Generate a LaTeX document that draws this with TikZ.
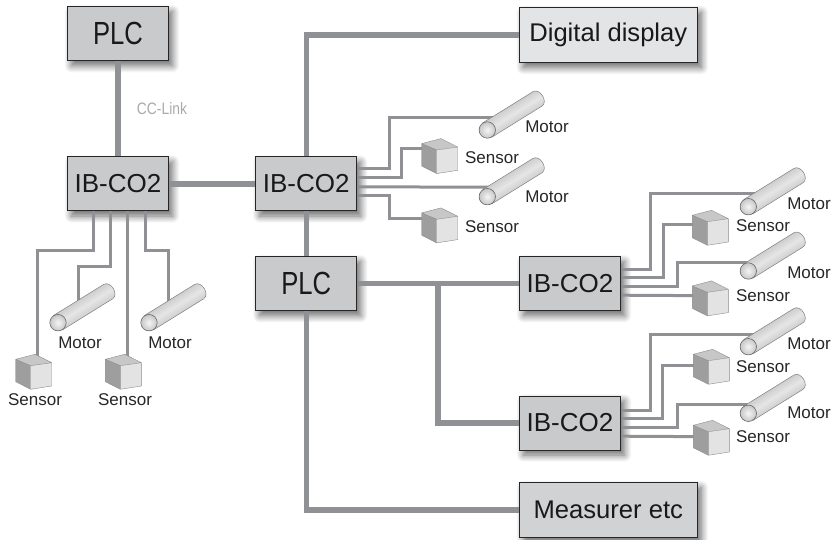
\documentclass[tikz,border=0pt]{standalone}
\usepackage{fontspec}
\setmainfont{Liberation Sans}
\usepackage{graphicx}
\usetikzlibrary{shadows.blur}
\definecolor{boxgray}{HTML}{C9CACC}
\definecolor{lightbox}{HTML}{E3E4E5}
\definecolor{midbox}{HTML}{D1D2D3}
\definecolor{wiregray}{HTML}{8F9194}
\definecolor{linkgray}{HTML}{A7A9AC}
\tikzset{
  unit/.style={draw=black!85, line width=1pt, fill=boxgray, minimum width=101pt, minimum height=54pt, inner sep=0pt, font=\fontsize{26}{26}\selectfont, text=black!90,
    blur shadow={shadow xshift=4pt, shadow yshift=-5pt, shadow blur radius=7pt, shadow blur steps=12, shadow opacity=60}},
  widebox/.style={unit, minimum width=178pt, minimum height=55pt, font=\fontsize{25.6}{26}\selectfont},
  bigwire/.style={draw=wiregray, line width=5.2pt},
  smallwire/.style={draw=wiregray, line width=3pt},
  lbl/.style={font=\fontsize{17}{17}\selectfont, inner sep=0pt, text=black!85},
  motor/.pic={
    \path[draw=black!50, line width=0.5pt, left color=black!40, right color=black!40, middle color=black!10, shading angle=32]
      (-20.5,22.7) -- (29.5,-8.3) .. controls (36.5,-12.5) and (27.5,-27) .. (20.5,-22.7) -- (-29.5,8.3) -- cycle;
    \path[draw=black!60, line width=0.6pt, inner color=black!4, outer color=black!22] (-25,15.5) circle (8.2);
  },
  sensor/.pic={
    \fill[black!22] (0,0) -- (-15,-6.4) -- (4.3,-11.4) -- (21,-3) -- cycle;
    \fill[black!38] (0,0) -- (-15,-6.4) -- (-15,16) -- (0,23.6) -- cycle;
    \fill[black!11] (0,0) -- (21,-3) -- (21,20.3) -- (0,23.6) -- cycle;
    \draw[black!45, line width=0.4pt, line join=round] (0,0) -- (-15,-6.4) -- (4.3,-11.4) -- (21,-3) -- (21,20.3) -- (0,23.6) -- (-15,16) -- (-15,-6.4)
      (0,0) -- (21,-3) (0,0) -- (0,23.6);
  },
}
\begin{document}
\begin{tikzpicture}[x=1pt, y=-1pt]
\useasboundingbox (0,0) rectangle (833,540);

% Where the motors and sensors sit
\coordinate (lm1) at (83,307.2);
\coordinate (lm2) at (174,307.2);
\coordinate (ls1) at (30.7,365.7);
\coordinate (ls2) at (120.4,365.7);
\coordinate (mm1) at (512.3,114.5);
\coordinate (mm2) at (512.3,181.2);
\coordinate (ms1) at (436.7,150);
\coordinate (ms2) at (436.7,219.3);
\coordinate (am1) at (773.3,191.2);
\coordinate (am2) at (773.3,255.5);
\coordinate (as1) at (707.3,221.7);
\coordinate (as2) at (707.3,292.3);
\coordinate (bm1) at (773.3,331.2);
\coordinate (bm2) at (773.3,397.8);
\coordinate (bs1) at (708.3,360.7);
\coordinate (bs2) at (708.3,431.7);
\coordinate (branch) at (438,283.7);

% Boxes
\node[unit] (plctop) at (118,33.7) {\fontsize{32}{32}\selectfont\scalebox{0.8}[1]{PLC}};
\node[unit] (ibleft) at (118,184) {IB-CO2};
\node[unit] (ibmid) at (306.2,184) {IB-CO2};
\node[unit] (plcmid) at (306.2,283.7) {\fontsize{32}{32}\selectfont\scalebox{0.8}[1]{PLC}};
\node[unit] (ibtop) at (570,283.7) {IB-CO2};
\node[unit] (iblow) at (570,423) {IB-CO2};
\node[widebox, fill=lightbox] (display) at (608.3,35) {Digital display};
\node[widebox, fill=midbox] (measurer) at (608.3,510) {Measurer etc};
\node[font=\fontsize{16.5}{16.5}\selectfont, text=linkgray, inner sep=0pt] (cclink) at (162,109) {\scalebox{0.84}[1]{CC-Link}};

% Thick lines
\draw[bigwire] (plctop) -- (ibleft);
\draw[bigwire] (ibleft) -- (ibmid);
\draw[bigwire] (ibmid.north) |- (display.west);
\draw[bigwire] (ibmid) -- (plcmid);
\draw[bigwire] (plcmid.south) |- (measurer.west);
\draw[bigwire] (plcmid) -- (ibtop);
\draw[bigwire] (branch) |- (iblow.west);

% Left unit
\draw[smallwire] ([xshift=-25pt]ibleft.south) |- (37.5,250.7) -- (37.5,0 |- ls1);
\draw[smallwire] ([xshift=-8pt]ibleft.south) |- (78,266.7) -- (78,0 |- lm1);
\draw[smallwire] ([xshift=9pt]ibleft.south) -- (127,0 |- ls2);
\draw[smallwire] ([xshift=27pt]ibleft.south) |- (168.7,250.7) -- (168.7,0 |- lm2);

% Middle unit
\draw[smallwire] ([yshift=-12.3pt]ibmid.north east) -| (389,118) -- (mm1 |- 389,118);
\draw[smallwire] ([yshift=-21.3pt]ibmid.north east) -| (401.3,149) -- (ms1 |- 401.3,149);
\draw[smallwire] ([yshift=-30.3pt]ibmid.north east) -- (mm2 |- 389,187.3);
\draw[smallwire] ([yshift=-39pt]ibmid.north east) -| (389,219) -- (ms2 |- 389,219);

% Right units
\draw[smallwire] ([yshift=-13.3pt]ibtop.north east) -| (650,193.3) -- (am1 |- 650,193.3);
\draw[smallwire] ([yshift=-21.6pt]ibtop.north east) -| (663.3,225) -- (as1 |- 663.3,225);
\draw[smallwire] ([yshift=-30pt]ibtop.north east) -| (677.7,262.7) -- (am2 |- 677.7,262.7);
\draw[smallwire] ([yshift=-39pt]ibtop.north east) -- (as2 |- 650,295.7);
\draw[smallwire] ([yshift=-14.5pt]iblow.north east) -| (650,334) -- (bm1 |- 650,334);
\draw[smallwire] ([yshift=-23.3pt]iblow.north east) -| (662.5,365.7) -- (bs1 |- 662.5,365.7);
\draw[smallwire] ([yshift=-32pt]iblow.north east) -| (677.7,404) -- (bm2 |- 677.7,404);
\draw[smallwire] ([yshift=-40.7pt]iblow.north east) -- (bs2 |- 650,436.7);

% Motors and sensors
\pic at (lm1) {motor};
\pic at (lm2) {motor};
\pic at (ls1) {sensor};
\pic at (ls2) {sensor};
\pic at (mm1) {motor};
\pic at (mm2) {motor};
\pic at (ms1) {sensor};
\pic at (ms2) {sensor};
\pic at (am1) {motor};
\pic at (am2) {motor};
\pic at (as1) {sensor};
\pic at (as2) {sensor};
\pic at (bm1) {motor};
\pic at (bm2) {motor};
\pic at (bs1) {sensor};
\pic at (bs2) {sensor};

% Labels
\node[lbl] (lmtext1) at (80,343) {Motor};
\node[lbl] (lmtext2) at (170,343) {Motor};
\node[lbl] (lstext1) at (35,400) {Sensor};
\node[lbl] (lstext2) at (125,400) {Sensor};
\node[lbl] (mmtext1) at (547,127) {Motor};
\node[lbl] (mmtext2) at (547,197) {Motor};
\node[lbl] (mstext1) at (492,158) {Sensor};
\node[lbl] (mstext2) at (492,227) {Sensor};
\node[lbl] (amtext1) at (809,204) {Motor};
\node[lbl] (amtext2) at (809,273) {Motor};
\node[lbl] (astext1) at (763,226) {Sensor};
\node[lbl] (astext2) at (763,296) {Sensor};
\node[lbl] (bmtext1) at (809,344) {Motor};
\node[lbl] (bmtext2) at (809,413) {Motor};
\node[lbl] (bstext1) at (763,366.7) {Sensor};
\node[lbl] (bstext2) at (763,436.7) {Sensor};
\end{tikzpicture}
\end{document}
